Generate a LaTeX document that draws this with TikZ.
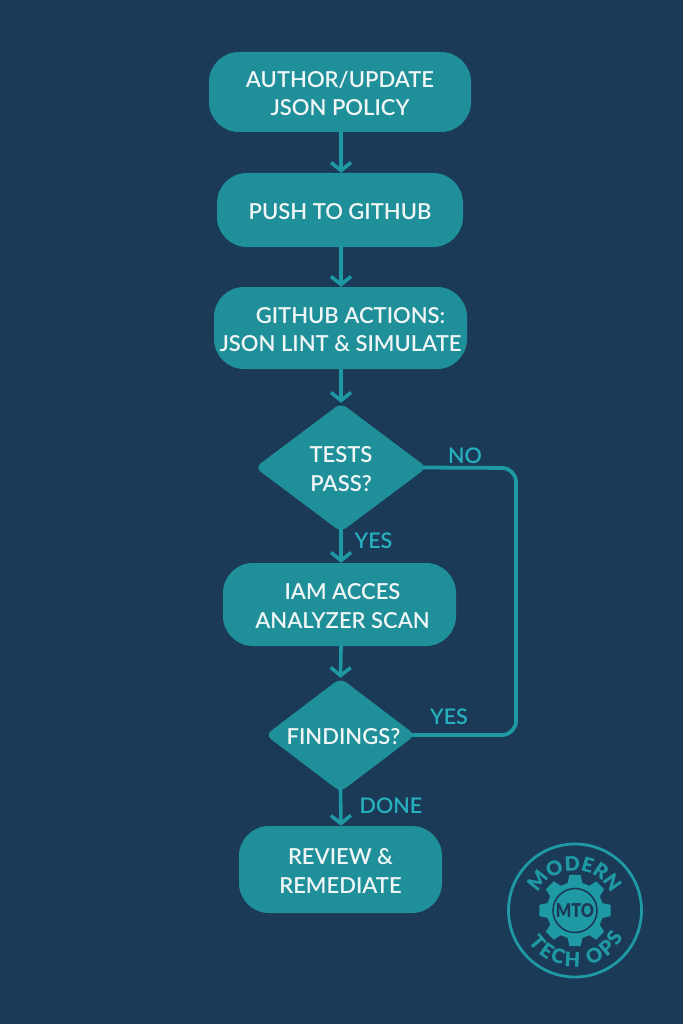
\documentclass[tikz,border=0pt]{standalone}
\usepackage{fontspec}
\setmainfont{Lato Semibold}
\newfontfamily\logofont{Lato Black}
\usetikzlibrary{arrows.meta,shapes.geometric,decorations.text}
\definecolor{bgc}{HTML}{1A3A57}
\definecolor{boxc}{HTML}{1F8F99}
\definecolor{linec}{HTML}{1E98A3}
\definecolor{labc}{HTML}{27B0BD}
\definecolor{txtc}{HTML}{F0F6F6}
\definecolor{logoc}{HTML}{1F9AA5}
\newcommand\tl[1]{\raisebox{-8.9pt}[0pt][0pt]{\begin{tabular}{@{}c@{}}#1\end{tabular}}}
\tikzset{
  x=1pt,y=1pt,
  flowbox/.style={draw=none,fill=boxc,rounded corners=30pt,text=txtc,
    font=\fontsize{22}{28.5}\selectfont,inner sep=0pt},
  flowdia/.style={diamond,aspect=1.3,draw=none,fill=boxc,rounded corners=7pt,text=txtc,
    font=\fontsize{22}{28.5}\selectfont,inner sep=0pt},
  flowarrow/.style={draw=linec,line width=3.6pt,-{Straight Barb[length=8pt,width=20pt,line width=3.6pt]}},
  flowline/.style={draw=linec,line width=3.8pt,rounded corners=14pt},
  flowlabel/.style={text=labc,font=\fontsize{21.5}{24}\selectfont,inner sep=0pt},
  logotext/.style={decorate,decoration={text along path,text align={fit to path},
    text format delimiters={|}{|}}},
}
\begin{document}
\begin{tikzpicture}
\fill[bgc] (0,0) rectangle (683,-1024);
\useasboundingbox (0,0) rectangle (683,-1024);
% nodes
\node[flowbox,minimum width=262pt,minimum height=80pt] (n1) at (340,-92) {\tl{AUTHOR/UPDATE\\JSON POLICY}};
\node[flowbox,minimum width=246pt,minimum height=74pt] (n2) at (340,-210) {\tl{PUSH TO GITHUB}};
\node[flowbox,minimum width=253pt,minimum height=82pt] (n3) at (340.5,-328) {\tl{\hspace*{20pt}GITHUB ACTIONS:\\JSON LINT \& SIMULATE}};
\node[flowdia,minimum width=172pt,minimum height=129pt] (d1) at (341,-467.5) {\tl{TESTS\\PASS?}};
\node[flowbox,minimum width=233pt,minimum height=83pt] (n4) at (339.5,-604.5) {\tl{\hspace*{6pt}IAM ACCES\\\hspace*{6pt}ANALYZER SCAN}};
\node[flowdia,minimum width=150pt,minimum height=114pt] (d2) at (340.5,-735) {\tl{\hspace*{6pt}FINDINGS?}};
\node[flowbox,minimum width=203pt,minimum height=87pt] (n5) at (340.5,-869.5) {\tl{REVIEW \&\\REMEDIATE}};
% connectors
\draw[flowarrow] (n1.south -| d1.north) -- (n2.north -| d1.north);
\draw[flowarrow] (n2.south -| d1.north) -- (n3.north -| d1.north);
\draw[flowarrow] (n3.south -| d1.north) -- (d1.north);
\draw[flowarrow] ([yshift=4pt]d1.south) -- (n4.north -| d1.north);
\draw[flowarrow] (n4.south -| d1.north) -- (d2.north);
\draw[flowarrow] ([yshift=4pt]d2.south) -- (n5.north -| d1.north);
\coordinate (c1) at (516,-468);
\coordinate (c2) at (516,-735);
\draw[flowline] ([xshift=-5pt]d1.east) -- (c1) -- (c2) -- ([xshift=-5pt]d2.east);
% labels
\node[flowlabel] (lno) at (465,-456) {NO};
\node[flowlabel] (ly1) at (373.5,-541) {YES};
\node[flowlabel] (ly2) at (449,-717) {YES};
\node[flowlabel] (ldn) at (391,-806) {DONE};
% logo
\coordinate (lc) at (575,-910.5);
\draw[logoc,line width=2.8pt] (lc) circle[radius=66.5pt];
\fill[logoc] ([shift={(lc)}]99:36pt) \foreach \a in {90,45,0,315,270,225,180,135}{
  -- ([shift={(lc)}]\a+9:36pt) -- ([shift={(lc)}]\a-9:36pt) -- ([shift={(lc)}]\a-15:28.5pt) -- ([shift={(lc)}]\a-30:28.5pt)
 } -- cycle;
\draw[bgc,line width=1.6pt] (lc) circle[radius=22pt];
\node[text=bgc,font=\fontsize{19}{20}\logofont,xscale=.85,inner sep=0pt] (mto) at (lc) {MTO};
\path[logotext,decoration={text={|\fontsize{20}{24}\logofont\color{logoc}|MODERN}}]
  ([shift={(lc)}]155:40pt) arc[start angle=155,end angle=25,radius=40pt];
\path[logotext,decoration={text={|\fontsize{20}{24}\logofont\color{logoc}|TECH OPS}}]
  ([shift={(lc)}]214:56pt) arc[start angle=214,end angle=331,radius=56pt];
\end{tikzpicture}
\end{document}
